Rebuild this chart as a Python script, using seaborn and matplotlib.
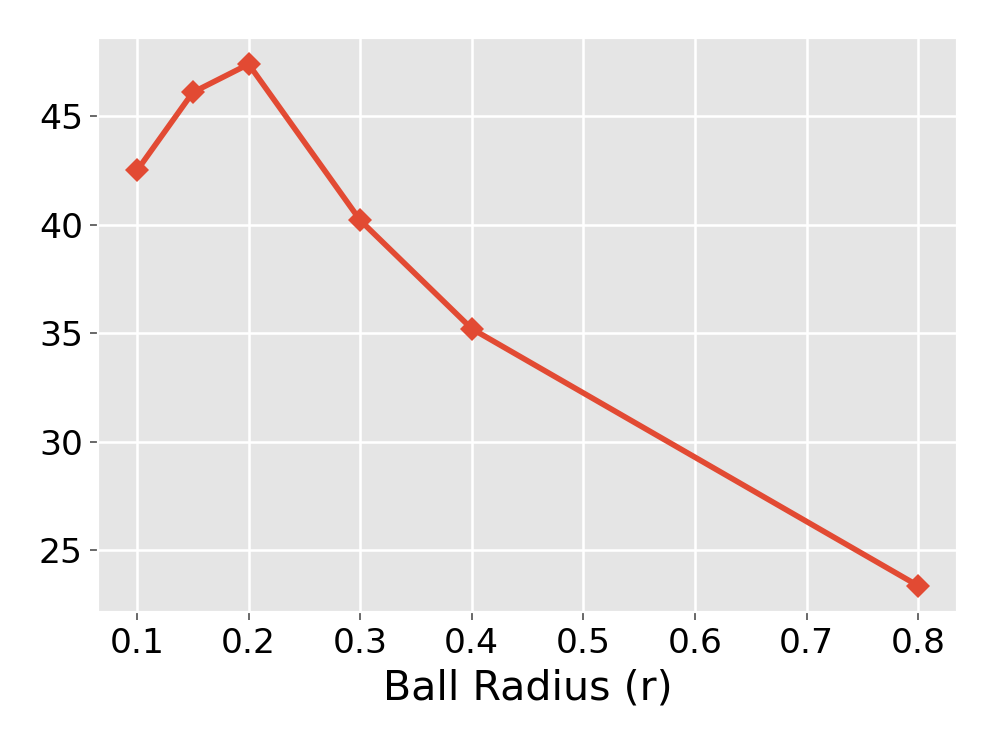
import matplotlib
matplotlib.use("Agg")
import matplotlib.pyplot as plt
import seaborn as sns
import pandas as pd

radius = [0.1, 0.15, 0.2, 0.3, 0.4, 0.8]
score = [42.5, 46.1, 47.4, 40.2, 35.2, 23.35]

plt.style.use("ggplot")
df = pd.DataFrame({"r": radius, "v": score})

fig, ax = plt.subplots(figsize=(6.4, 4.8), dpi=155.625)
fig.subplots_adjust(left=0.0984, right=0.961, top=0.949, bottom=0.181)
sns.lineplot(data=df, x="r", y="v", ax=ax, color="#E24A33", marker="D",
             markersize=8, linewidth=2.6, markeredgewidth=0)
ax.set_xlabel("Ball Radius (r)", fontsize=19, color="black")
ax.set_ylabel("")
ax.tick_params(labelsize=16, labelcolor="black")
ax.grid(True, color="white", linewidth=1.2)
fig.savefig("out.png", dpi=155.625)
